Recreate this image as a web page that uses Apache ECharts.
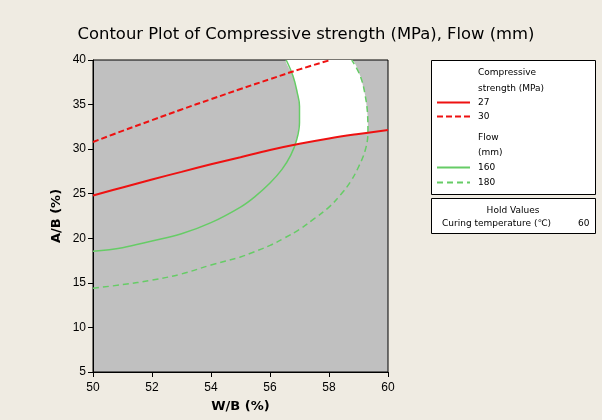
<!DOCTYPE html>
<html>
<head>
<meta charset="utf-8">
<script src="https://cdn.jsdelivr.net/npm/echarts@6/dist/echarts.min.js"></script>
<style>
  html, body { margin: 0; padding: 0; background: #efebe2; }
  #main { width: 602px; height: 420px; }
</style>
</head>
<body>
<div id="main"></div>
<script>
// contour lines, [W/B, A/B]
const strength27 = [[50, 24.8], [51, 25.7], [52, 26.6], [53, 27.45], [54, 28.3], [55, 29.1],
  [56, 29.9], [57, 30.6], [58, 31.2], [59, 31.7], [60, 32.15]];
const strength30 = [[50, 30.8], [51, 32.05], [52, 33.25], [53, 34.45], [54, 35.6], [55, 36.75],
  [56, 37.85], [57, 38.95], [58.05, 40]];
const flow160 = [[50, 18.55], [51, 18.95], [52, 19.7], [53, 20.5], [54, 21.75], [55, 23.5],
  [55.5, 24.7], [56, 26.2], [56.4, 27.7], [56.7, 29.3], [56.9, 31.0], [57.0, 33.0], [57.0, 34.8],
  [56.92, 36.4], [56.78, 38.2], [56.55, 40]];
const flow180 = [[50, 14.4], [51, 14.8], [52, 15.3], [53, 16.0], [54, 17.0], [55, 17.9],
  [55.32, 18.3], [56, 19.2], [56.5, 20.05], [57, 21.0], [57.5, 22.2], [58, 23.5], [58.4, 24.9],
  [58.72, 26.3], [59, 28.0], [59.23, 29.9], [59.32, 32.0], [59.31, 33.7], [59.23, 35.96],
  [59.06, 38.2], [58.77, 40]];
// feasible (white) region outline
const whiteRegion = [[56.85, 30.5], [56.9, 31.0], [57.0, 33.0], [57.0, 34.8], [56.92, 36.4],
  [56.78, 38.2], [56.55, 40], [58.77, 40], [59.06, 38.2], [59.23, 35.96], [59.31, 33.7],
  [59.32, 32.0], [59.31, 31.85], [59, 31.7], [58, 31.2], [57, 30.6], [56.85, 30.5]];

const red = "#ee1111";
const green = "#66cc66";
const txt = "DejaVu Sans";

const chart = echarts.init(document.getElementById("main"));
chart.setOption({
  backgroundColor: "#efebe2",
  animation: false,
  title: {
    text: "Contour Plot of Compressive strength (MPa), Flow (mm)",
    left: 301,
    textAlign: "center",
    top: 22,
    textStyle: { fontFamily: txt, fontSize: 16.4, fontWeight: "normal", color: "#000" },
  },
  grid: {
    left: 93,
    top: 60,
    width: 295,
    height: 312,
    show: true,
    backgroundColor: "#c0c0c0",
    borderColor: "#000",
    borderWidth: 1,
  },
  xAxis: {
    type: "value",
    min: 50,
    max: 60,
    interval: 2,
    name: "W/B (%)",
    nameLocation: "middle",
    nameGap: 28,
    nameTextStyle: { fontFamily: txt, fontSize: 13, fontWeight: "bold", color: "#000" },
    axisLine: { lineStyle: { color: "#000" } },
    axisTick: { length: 5, lineStyle: { color: "#000" } },
    axisLabel: { fontFamily: "Liberation Sans", fontSize: 12, color: "#000", margin: 10 },
    splitLine: { show: false },
  },
  yAxis: {
    type: "value",
    min: 5,
    max: 40,
    interval: 5,
    name: "A/B (%)",
    nameLocation: "middle",
    nameGap: 30,
    nameTextStyle: { fontFamily: txt, fontSize: 13, fontWeight: "bold", color: "#000" },
    axisLine: { lineStyle: { color: "#000" } },
    axisTick: { length: 5, lineStyle: { color: "#000" } },
    axisLabel: { fontFamily: "Liberation Sans", fontSize: 12, color: "#000", margin: 7 },
    splitLine: { show: false },
  },
  legend: [
    {
      data: ["27", "30"],
      orient: "vertical",
      left: 436,
      top: 98,
      padding: 0,
      itemWidth: 33,
      itemHeight: 10,
      itemGap: 5,
      itemStyle: { opacity: 0 },
      textStyle: { fontFamily: txt, fontSize: 9, color: "#000", padding: [0, 0, 0, 3] },
    },
    {
      data: ["160", "180"],
      orient: "vertical",
      left: 436,
      top: 163,
      padding: 0,
      itemWidth: 33,
      itemHeight: 10,
      itemGap: 6,
      itemStyle: { opacity: 0 },
      textStyle: { fontFamily: txt, fontSize: 9, color: "#000", padding: [0, 0, 0, 3] },
    },
  ],
  graphic: [
    { type: "rect", shape: { x: 431.5, y: 60.5, width: 164, height: 134 },
      style: { fill: "#fff", stroke: "#000", lineWidth: 1 }, z: -1 },
    { type: "rect", shape: { x: 431.5, y: 198.5, width: 164, height: 35 },
      style: { fill: "#fff", stroke: "#000", lineWidth: 1 }, z: -1 },
    { type: "text", x: 478, y: 73, style: { text: "Compressive", font: "9px DejaVu Sans", fill: "#000", verticalAlign: "middle" } },
    { type: "text", x: 478, y: 89, style: { text: "strength (MPa)", font: "9px DejaVu Sans", fill: "#000", verticalAlign: "middle" } },
    { type: "text", x: 478, y: 138, style: { text: "Flow", font: "9px DejaVu Sans", fill: "#000", verticalAlign: "middle" } },
    { type: "text", x: 478, y: 153, style: { text: "(mm)", font: "9px DejaVu Sans", fill: "#000", verticalAlign: "middle" } },
    { type: "text", x: 513, y: 211, style: { text: "Hold Values", font: "9px DejaVu Sans", fill: "#000", align: "center", verticalAlign: "middle" } },
    { type: "text", x: 442, y: 224, style: { text: "Curing temperature (℃)", font: "9px DejaVu Sans", fill: "#000", verticalAlign: "middle" } },
    { type: "text", x: 578, y: 224, style: { text: "60", font: "9px DejaVu Sans", fill: "#000", verticalAlign: "middle" } },
  ],
  series: [
    {
      type: "custom",
      name: "region",
      silent: true,
      clip: true,
      data: [whiteRegion[0]],
      renderItem: function (params, api) {
        return {
          type: "polygon",
          shape: { points: whiteRegion.map((p) => api.coord(p)), smooth: 0.2 },
          style: { fill: "#fff" },
        };
      },
      z: 1,
    },
    {
      name: "160",
      type: "line",
      data: flow160,
      smooth: 0.4,
      symbol: "none",
      lineStyle: { color: green, width: 1.5 },
      itemStyle: { color: green },
      z: 2,
    },
    {
      name: "180",
      type: "line",
      data: flow180,
      smooth: 0.4,
      symbol: "none",
      lineStyle: { color: green, width: 1.5, type: [6, 4] },
      itemStyle: { color: green },
      z: 2,
    },
    {
      name: "27",
      type: "line",
      data: strength27,
      smooth: 0.4,
      symbol: "none",
      lineStyle: { color: red, width: 2 },
      itemStyle: { color: red },
      z: 3,
    },
    {
      name: "30",
      type: "line",
      data: strength30,
      smooth: 0.4,
      symbol: "none",
      lineStyle: { color: red, width: 2, type: [6, 3] },
      itemStyle: { color: red },
      z: 3,
    },
  ],
});
</script>
</body>
</html>
